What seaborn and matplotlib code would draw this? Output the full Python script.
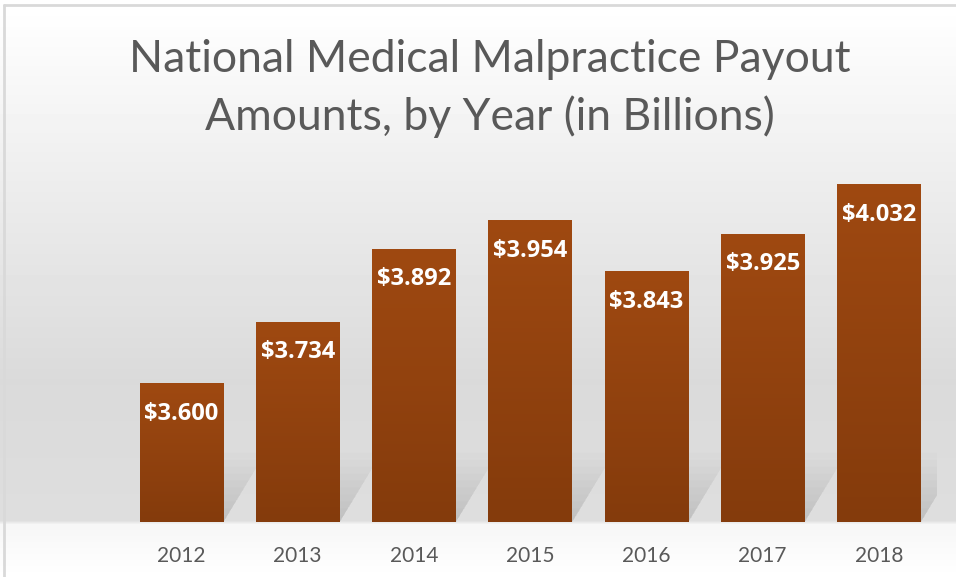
import numpy as np
import pandas as pd
import matplotlib
matplotlib.use("Agg")
import matplotlib.pyplot as plt
import seaborn as sns
from matplotlib.patches import Polygon
from matplotlib.colors import LinearSegmentedColormap

# data
years = ["2012", "2013", "2014", "2015", "2016", "2017", "2018"]
payouts = [3.600, 3.734, 3.892, 3.954, 3.843, 3.925, 4.032]
value_labels = ["$3.600", "$3.734", "$3.892", "$3.954", "$3.843", "$3.925", "$4.032"]

df = pd.DataFrame({"Year": years, "Payout": payouts})

sns.set_theme(style="white")
plt.rcParams['font.family'] = ['Lato', 'DejaVu Sans']

W, H = 956, 577
fig = plt.figure(figsize=(W / 100, H / 100), dpi=100)
fig.patch.set_facecolor("white")

# background gradient (white at top -> light grey at the floor, lighter below)
bg = fig.add_axes([0, 0, 1, 1], zorder=-5)
rows = np.arange(H)
shade = np.interp(rows, [0, 20, 180, 380, 520, 524, 577],
                  [1.0, 0.995, 0.93, 0.855, 0.87, 0.965, 1.0])
img = np.repeat(shade[:, None], W, axis=1)
bg.imshow(img, cmap="gray", vmin=0, vmax=1, aspect="auto",
          extent=[0, W, H, 0], interpolation="bilinear")
bg.plot([4, W], [5, 5], color="#d9d9d9", lw=2)
bg.plot([4, 4], [5, H], color="#d9d9d9", lw=2)
bg.set_xlim(0, W)
bg.set_ylim(H, 0)
bg.axis("off")

# main axes
left, right, bottom, top = 123.4, 937.0, 522.0, 153.5
ymin, ymax = 3.3, 4.1
ax = fig.add_axes([left / W, 1 - bottom / H, (right - left) / W, (bottom - top) / H])
ax.patch.set_alpha(0)

sns.barplot(data=df, x="Year", y="Payout", color="#933f0e", width=0.72,
            saturation=1, linewidth=0, ax=ax, zorder=3)

# gradient fill of bars + soft floor shadows
bar_cmap = LinearSegmentedColormap.from_list("bar", ["#843b0c", "#9f4911"])
grad = np.linspace(0, 1, 256)[:, None]
for p in ax.patches[:len(years)]:
    x0 = p.get_x()
    w = p.get_width()
    y1 = p.get_y() + p.get_height()
    im = ax.imshow(grad, cmap=bar_cmap, aspect="auto", origin="lower",
                   extent=[x0, x0 + w, ymin, y1], zorder=4)
    # shadow on the floor, going back to the right
    n = 10
    for k in range(n):
        f = 1 - k / n
        dx = 0.36 * f
        dy = 0.15 * f
        sh = Polygon([(x0 + 0.1, ymin), (x0 + w, ymin),
                      (x0 + w + dx, ymin + dy), (x0 + 0.1 + dx, ymin + dy)],
                     closed=True, facecolor="#8c8c8c", edgecolor="none",
                     alpha=0.035, zorder=1)
        ax.add_patch(sh)

ax.set_xlim(-0.5, 6.5)
ax.set_ylim(ymin, ymax)

# value labels inside the top of each bar
for i, (v, lab) in enumerate(zip(payouts, value_labels)):
    ax.annotate(lab, (i, v), xytext=(0, -21.5), textcoords="offset points",
                ha="center", va="center", color="white", fontsize=17,
                fontweight="bold", family=["Open Sans", "DejaVu Sans"], zorder=6)

ax.set_xlabel("")
ax.set_ylabel("")
ax.set_yticks([])
ax.tick_params(axis="x", length=0, pad=17, labelsize=15, labelcolor="#595959")
sns.despine(ax=ax, left=True, bottom=True)

# title
fig.text(490 / W, 1 - 60 / H, "National Medical Malpractice Payout",
         ha="center", va="center", fontsize=32, color="#595959")
fig.text(490 / W, 1 - 117 / H, "Amounts, by Year (in Billions)",
         ha="center", va="center", fontsize=32, color="#595959")

fig.savefig("out.png", dpi=100)
